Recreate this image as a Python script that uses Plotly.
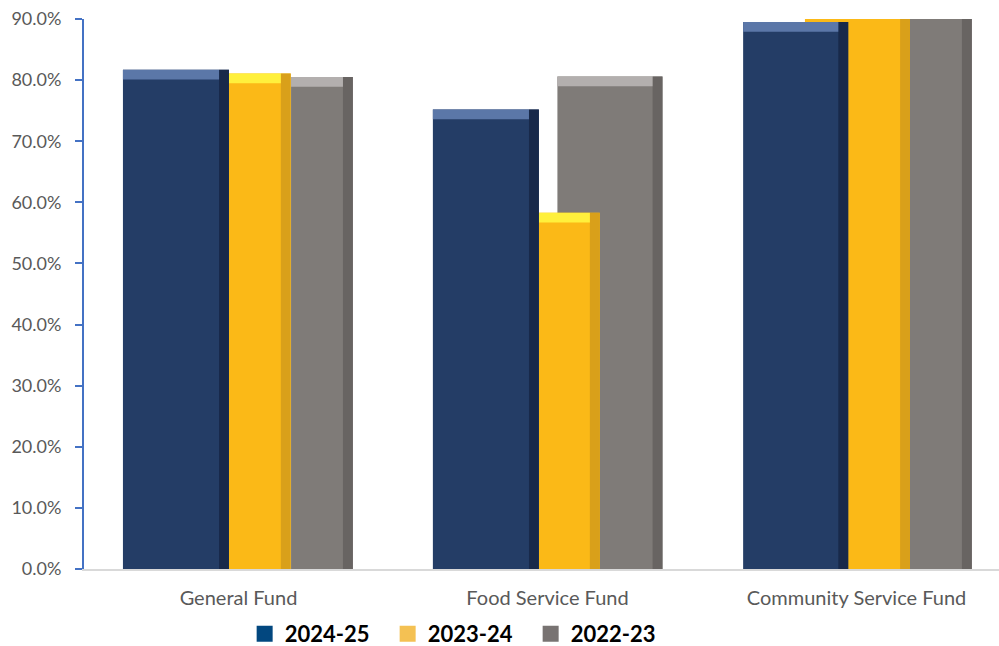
import plotly.graph_objects as go

categories = ["General Fund", "Food Service Fund", "Community Service Fund"]
series_names = ["2024-25", "2023-24", "2022-23"]
values_2024_25 = [81.7, 75.2, 89.5]
values_2023_24 = [81.1, 58.3, 96.0]
values_2022_23 = [80.5, 80.6, 96.0]
tick_vals = [0, 10, 20, 30, 40, 50, 60, 70, 80, 90]
tick_text = ["0.0%", "10.0%", "20.0%", "30.0%", "40.0%", "50.0%", "60.0%", "70.0%", "80.0%", "90.0%"]

# styling (positions of bars within category bands, colours)
styles = {
    "2024-25": dict(offset=[-0.374, -0.371, -0.367], width=[0.343, 0.343, 0.340],
                    main="#243D66", top="#5B77A8", side="#18294A", legend="#02477F"),
    "2023-24": dict(offset=[-0.031, -0.028, -0.167], width=[0.200, 0.197, 0.340],
                    main="#FBB917", top="#FFF03C", side="#D9A01A", legend="#F4C153"),
    "2022-23": dict(offset=[0.170, 0.032, 0.173], width=[0.200, 0.340, 0.200],
                    main="#7F7B78", top="#B3AFAE", side="#686462", legend="#787372"),
}
series_values = {"2024-25": values_2024_25, "2023-24": values_2023_24, "2022-23": values_2022_23}

fig = go.Figure()
side_w = 0.032
cap = 1.6
# draw back-to-front: gray, yellow, blue
for name in ["2022-23", "2023-24", "2024-25"]:
    st = series_values[name]
    s = styles[name]
    fig.add_trace(go.Bar(
        x=categories, y=st, name=name, offset=s["offset"], width=s["width"],
        marker=dict(color=s["main"], line=dict(width=0)), showlegend=False, hoverinfo="y"))
    fig.add_trace(go.Bar(
        x=categories, y=st, offset=[o + w - side_w for o, w in zip(s["offset"], s["width"])],
        width=[side_w] * 3, marker=dict(color=s["side"], line=dict(width=0)),
        showlegend=False, hoverinfo="skip"))
    fig.add_trace(go.Bar(
        x=categories, y=[cap] * 3, base=[v - cap for v in st],
        offset=s["offset"], width=[w - side_w for w in s["width"]],
        marker=dict(color=s["top"], line=dict(width=0)), showlegend=False, hoverinfo="skip"))

# legend entries
for name in series_names:
    fig.add_trace(go.Scatter(
        x=[None], y=[None], mode="markers", name=name,
        marker=dict(symbol="square", size=30, color=styles[name]["legend"]),
        showlegend=True))

fig.update_layout(
    width=999, height=646,
    margin=dict(l=84, r=0, t=19, b=77, autoexpand=False),
    barmode="overlay",
    plot_bgcolor="white", paper_bgcolor="white",
    font=dict(family="Lato, Carlito, Calibri, sans-serif", color="#595959", size=17),
    showlegend=True,
    legend=dict(orientation="h", x=0.410, xanchor="center", y=-0.118, yanchor="middle",
                font=dict(family="Lato, sans-serif", size=22, color="#000000", weight="bold"),
                itemsizing="trace", traceorder="normal", bgcolor="rgba(0,0,0,0)",
                itemwidth=30, entrywidth=98, entrywidthmode="pixels"),
)
fig.update_xaxes(
    type="category", range=[-0.5, 2.461], showline=True, linecolor="#D9D9D9", linewidth=2,
    ticks="", showgrid=False, zeroline=False, ticklabelstandoff=10, automargin=False,
    ticklabeloverflow="allow",
    tickfont=dict(family="Lato, sans-serif", size=20, color="#595959"))
fig.update_yaxes(
    range=[0, 90], tickvals=tick_vals, ticktext=tick_text, showline=True,
    linecolor="#4472C4", linewidth=2, ticks="outside", ticklen=7, tickcolor="#4472C4",
    tickwidth=2, showgrid=False, zeroline=False, ticklabelstandoff=10, automargin=False,
    ticklabeloverflow="allow",
    tickfont=dict(family="Lato, sans-serif", size=18, color="#595959"))

fig.write_html("out.html", config={"displayModeBar": False},
               post_script="document.body.style.margin='0';document.body.style.overflow='hidden';")
